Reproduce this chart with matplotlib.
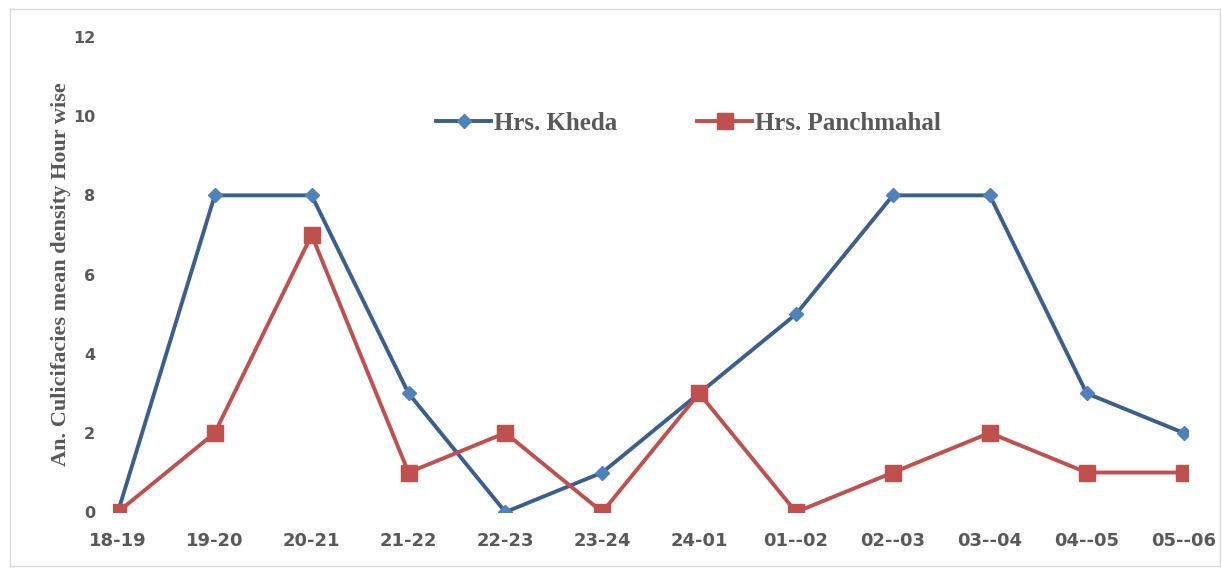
import matplotlib
matplotlib.use("Agg")
from matplotlib import pyplot as plt
from matplotlib.patches import Rectangle

hours = ["18-19", "19-20", "20-21", "21-22", "22-23", "23-24",
         "24-01", "01--02", "02--03", "03--04", "04--05", "05--06"]
kheda = [0, 8, 8, 3, 0, 1, 3, 5, 8, 8, 3, 2]
panchmahal = [0, 2, 7, 1, 2, 0, 3, 0, 1, 2, 1, 1]

fig = plt.figure(figsize=(12.22, 5.69), dpi=100)
ax = fig.add_axes([0.0925, 0.1, 0.88, 0.835])

# outer frame like the excel chart area
fig.patches.append(Rectangle((0.008, 0.005), 0.99, 0.98, transform=fig.transFigure,
                             fill=False, edgecolor="#d9d9d9", linewidth=1))

x = list(range(len(hours)))
ax.plot(x, kheda, color="#3A5F8F", linewidth=2.8, marker="D", markersize=7.5,
        markerfacecolor="#4F81BD", markeredgecolor="#4F81BD", label="Hrs. Kheda")
ax.plot(x, panchmahal, color="#C0504D", linewidth=2.8, marker="s", markersize=11,
        markerfacecolor="#C0504D", markeredgecolor="#C0504D", label="Hrs. Panchmahal")

ax.set_xlim(-0.05, 11.05)
ax.set_ylim(0, 12)
ax.set_yticks(range(0, 13, 2))
ax.set_xticks(x)
ax.set_xticklabels(hours)
for s in ax.spines.values():
    s.set_visible(False)
ax.tick_params(length=0)
ax.tick_params(axis="x", labelsize=13, labelcolor="#595959", pad=14)
ax.tick_params(axis="y", labelsize=11.5, labelcolor="#595959", pad=13)
for t in ax.get_xticklabels() + ax.get_yticklabels():
    t.set_fontweight("bold")

ax.set_ylabel("An. Culicifacies mean density Hour wise", family="Liberation Serif",
              fontsize=16, fontweight="bold", color="#595959", labelpad=1)

leg = ax.legend(loc="upper center", bbox_to_anchor=(0.535, 0.89), ncol=2, frameon=False,
                prop={"family": "Liberation Serif", "weight": "bold", "size": 18},
                columnspacing=3.2, handlelength=2.2, handletextpad=0.1)
for t in leg.get_texts():
    t.set_color("#595959")

fig.savefig("out.png", dpi=100)
